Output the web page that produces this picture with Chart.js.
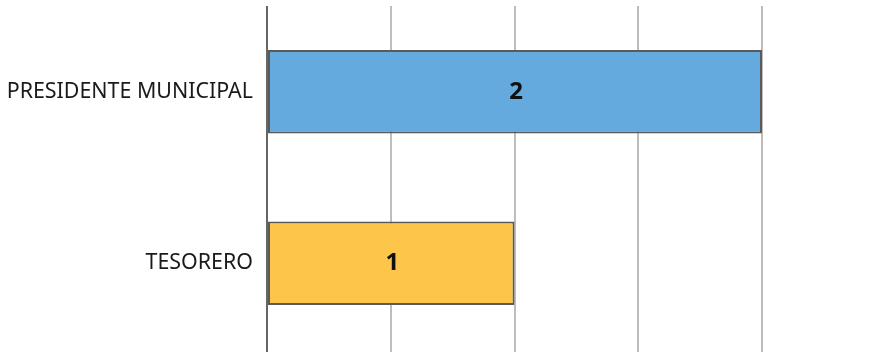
<!DOCTYPE html>
<html>
<head>
<meta charset="utf-8">
<script src="https://cdn.jsdelivr.net/npm/chart.js@4/dist/chart.umd.min.js"></script>
<style>
html,body{margin:0;padding:0;background:#fff;}
#wrap{width:881px;height:352px;position:relative;}
</style>
</head>
<body>
<div id="wrap"><canvas id="c" width="881" height="352"></canvas></div>
<script>
const categories = ["PRESIDENTE MUNICIPAL", "TESORERO"];
const values = [2, 1];
const barColors = ["#65AADE", "#FDC64A"];

const valueLabels = {
  id: 'valueLabels',
  afterDatasetsDraw(chart) {
    const ctx = chart.ctx;
    const meta = chart.getDatasetMeta(0);
    ctx.save();
    ctx.font = "bold 24px 'Noto Sans'";
    ctx.fillStyle = "#111";
    ctx.textAlign = "center";
    ctx.textBaseline = "middle";
    meta.data.forEach((bar, i) => {
      const p = bar.getProps(['x','y','base'], true);
      ctx.fillText(String(values[i]), (p.x + p.base) / 2 + 1, p.y);
    });
    ctx.restore();
  }
};

new Chart(document.getElementById('c'), {
  type: 'bar',
  data: {
    labels: categories,
    datasets: [{
      data: values,
      backgroundColor: barColors,
      borderColor: "#5a5a5a",
      borderWidth: 2,
      borderSkipped: false,
      barPercentage: 0.61,
      categoryPercentage: 0.8
    }]
  },
  options: {
    indexAxis: 'y',
    responsive: false,
    animation: false,
    devicePixelRatio: 1,
    layout: { padding: { top: 6, right: 119, bottom: 0, left: 0 } },
    plugins: { legend: { display: false }, tooltip: { enabled: false } },
    scales: {
      x: {
        min: 0, max: 2,
        ticks: { display: false, stepSize: 0.5 },
        border: { display: false },
        grid: {
          color: (c) => c.index === 0 ? '#666' : '#bdbdbd',
          lineWidth: 2,
          drawTicks: true,
          tickLength: 3
        }
      },
      y: {
        afterFit(scale) { scale.width = 267; scale.paddingTop = 0; scale.paddingBottom = 0; },
        ticks: { color: '#1a1a1a', font: { family: "'Noto Sans'", size: 21.4 }, padding: 14 },
        grid: { display: false, drawTicks: false },
        border: { display: false }
      }
    }
  },
  plugins: [valueLabels]
});
</script>
</body>
</html>
